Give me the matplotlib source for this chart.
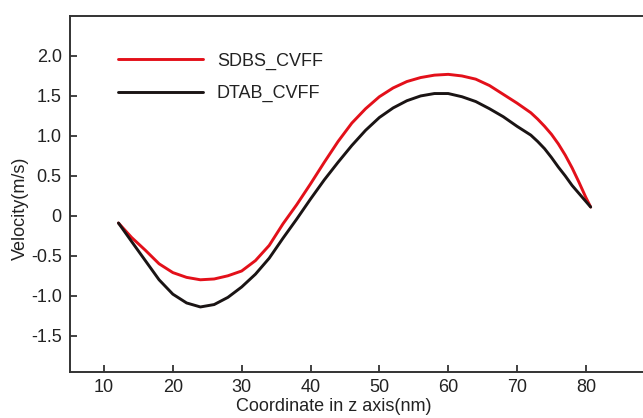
import matplotlib
matplotlib.use("Agg")
import matplotlib.pyplot as plt

plt.rcParams['font.family'] = ['Liberation Sans', 'DejaVu Sans']

# data
z_sdbs = [12.1, 14, 16, 18, 20, 22, 24, 26, 28, 30, 32, 34, 36, 38, 40, 42, 44, 46, 48, 50,
          52, 54, 56, 58, 60, 62, 64, 66, 68, 70, 72, 73, 74, 75, 76, 77, 78, 79, 80, 80.7]
v_sdbs = [-0.09, -0.27, -0.43, -0.60, -0.71, -0.77, -0.80, -0.79, -0.75, -0.69, -0.56, -0.37, -0.10, 0.14, 0.40, 0.67, 0.93, 1.16, 1.34, 1.49,
          1.60, 1.68, 1.73, 1.76, 1.77, 1.75, 1.71, 1.63, 1.52, 1.41, 1.29, 1.21, 1.12, 1.02, 0.90, 0.76, 0.60, 0.42, 0.23, 0.11]
z_dtab = [12.1, 14, 16, 18, 20, 22, 24, 26, 28, 30, 32, 34, 36, 38, 40, 42, 44, 46, 48, 50,
          52, 54, 56, 58, 60, 62, 64, 66, 68, 70, 72, 73, 74, 75, 76, 77, 78, 79, 80, 80.7]
v_dtab = [-0.09, -0.32, -0.56, -0.80, -0.98, -1.09, -1.14, -1.11, -1.02, -0.89, -0.73, -0.53, -0.28, -0.04, 0.21, 0.45, 0.67, 0.88, 1.07, 1.23,
          1.35, 1.44, 1.50, 1.53, 1.53, 1.49, 1.43, 1.34, 1.24, 1.12, 1.01, 0.93, 0.84, 0.73, 0.61, 0.50, 0.38, 0.28, 0.18, 0.11]
labels = ['SDBS_CVFF', 'DTAB_CVFF']
x_ticks = [10, 20, 30, 40, 50, 60, 70, 80]
y_ticks = [-1.5, -1.0, -0.5, 0, 0.5, 1.0, 1.5, 2.0]
y_ticklabels = ['-1.5', '-1.0', '-0.5', '0', '0.5', '1.0', '1.5', '2.0']

W, H = 643, 418
fig = plt.figure(figsize=(W / 100, H / 100), dpi=100)
ax_left, ax_bottom, ax_top = 70, 371.7, 16
ax = fig.add_axes([ax_left / W, 1 - ax_bottom / H, (W - ax_left) / W, (ax_bottom - ax_top) / H])

ax.plot(z_sdbs, v_sdbs, color='#e3101a', lw=2.1, label=labels[0],
        solid_capstyle='round', solid_joinstyle='round')
ax.plot(z_dtab, v_dtab, color='#1a1414', lw=2.1, label=labels[1],
        solid_capstyle='round', solid_joinstyle='round')

ax.set_xlim(5.06, 88.3)
ax.set_ylim(-1.95, 2.50)
ax.set_xticks(x_ticks)
ax.set_yticks(y_ticks)
ax.set_yticklabels(y_ticklabels)

for s in ['left', 'bottom', 'top']:
    ax.spines[s].set_color('#333333')
    ax.spines[s].set_linewidth(1.4)
ax.spines['right'].set_visible(False)
ax.tick_params(direction='in', length=5, width=1.3, color='#333333',
               labelsize=13, labelcolor='#222222', pad=6)
ax.tick_params(axis='x', pad=5)

ax.set_xlabel('Coordinate in z axis(nm)', fontsize=13, color='#222222')
ax.xaxis.set_label_coords((334 - ax_left) / (W - ax_left), (ax_bottom - 398) / (ax_bottom - ax_top))
ax.set_ylabel('Velocity(m/s)', fontsize=13, color='#222222')
ax.yaxis.set_label_coords((29 - ax_left) / (W - ax_left), (ax_bottom - 208) / (ax_bottom - ax_top))

leg = ax.legend(loc='upper left', bbox_to_anchor=(118 / W, 1 - 52.5 / H),
                bbox_transform=fig.transFigure, frameon=False, fontsize=13,
                handlelength=4.7, handletextpad=0.78, borderpad=0, borderaxespad=0,
                labelspacing=0.84)
for t in leg.get_texts():
    t.set_color('#222222')

fig.savefig('out.png', dpi=100)
